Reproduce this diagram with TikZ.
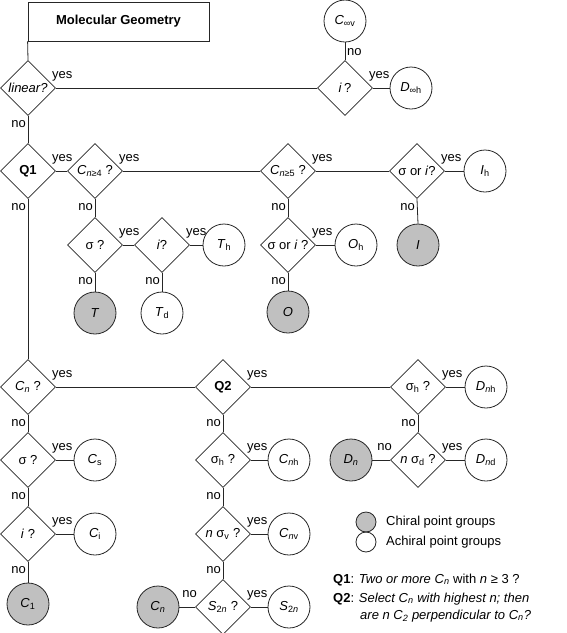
\documentclass[tikz,border=0pt]{standalone}
\usepackage{fontspec}
\setmainfont{Liberation Sans}
\usetikzlibrary{shapes.geometric,calc}
\definecolor{chgray}{HTML}{C0C0C0}
\newcommand\Sb[1]{\textsubscript{#1}}
\newcommand\It[1]{\textit{#1}}
\newcommand\fs{\fontsize{13}{15}\selectfont}
\begin{document}
\begin{tikzpicture}[x=1pt,y=-1pt,
  every node/.append style={font=\fs},
  ln/.style={draw=black!85, line width=0.8pt},
  dia/.style={draw=black!85, line width=0.8pt, shape=diamond, minimum width=55pt, minimum height=55pt, inner sep=0pt, aspect=1},
  pg/.style={draw=black!85, line width=0.8pt, circle, minimum size=42pt, inner sep=0pt},
  chi/.style={pg, fill=chgray},
  lab/.style={inner sep=0pt},
  bf/.style={font=\bfseries\fs},
]
\useasboundingbox (0,0) rectangle (566,633);
% title
\node[draw=black!85, line width=0.8pt, minimum width=181pt, minimum height=39pt, inner sep=0pt, bf] (title) at (118.5,21.5) {Molecular Geometry};
% decisions
\node[dia, label={[lab]center:\It{linear?}}] (lin) at (28,88) {};
\node[dia, label={[lab]center:{\It{i}\,?}}] (iq) at (345,88) {};
\node[dia, label={[lab,bf]center:Q1}] (q1) at (28,171) {};
\node[dia, label={[lab]center:{\It{C}\Sb{\It{n}≥4} ?}}] (c4) at (95,171) {};
\node[dia, label={[lab]center:{\It{C}\Sb{\It{n}≥5} ?}}] (c5) at (288,171) {};
\node[dia, label={[lab]center:{σ or \It{i}?}}] (soa) at (417,171) {};
\node[dia, label={[lab]center:{σ ?}}] (sga) at (95,245) {};
\node[dia, label={[lab]center:{\It{i}?}}] (iqa) at (162,245) {};
\node[dia, label={[lab]center:{σ or \It{i} ?}}] (sob) at (288,245) {};
\node[dia, label={[lab]center:{\It{C}\Sb{\It{n}} ?}}] (cnq) at (28,387) {};
\node[dia, label={[lab,bf]center:Q2}] (q2) at (223,387) {};
\node[dia, label={[lab]center:{σ\Sb{h} ?}}] (shb) at (418,387) {};
\node[dia, label={[lab]center:{σ ?}}] (sgb) at (28,460) {};
\node[dia, label={[lab]center:{\It{i} ?}}] (iqb) at (28,534) {};
\node[dia, label={[lab]center:{σ\Sb{h} ?}}] (sha) at (223,460) {};
\node[dia, label={[lab]center:{\It{n} σ\Sb{v} ?}}] (nsv) at (223,534) {};
\node[dia, label={[lab]center:{\It{S}\Sb{2\It{n}} ?}}] (s2q) at (223,607) {};
\node[dia, label={[lab]center:{\It{n} σ\Sb{d} ?}}] (nsd) at (418,460) {};
% point groups
\node[pg] (civ) at (345,21) {\It{C}\Sb{∞v}};
\node[pg] (dih) at (411,88) {\It{D}\Sb{∞h}};
\node[pg] (ih) at (485,171) {\It{I}\Sb{h}};
\node[pg] (th) at (224,245) {\It{T}\Sb{h}};
\node[chi] (t) at (95,313) {\It{T}};
\node[pg] (td) at (162,313) {\It{T}\Sb{d}};
\node[pg] (oh) at (356,245) {\It{O}\Sb{h}};
\node[chi] (o) at (288,312) {\It{O}};
\node[chi] (ico) at (418,245) {\It{I}};
\node[pg] (cs) at (95,460) {\It{C}\Sb{s}};
\node[pg] (ci) at (95,534) {\It{C}\Sb{i}};
\node[chi] (c1) at (28,604) {\It{C}\Sb{1}};
\node[pg] (cnh) at (289,460) {\It{C}\Sb{\It{n}h}};
\node[pg] (cnv) at (289,534) {\It{C}\Sb{\It{n}v}};
\node[pg] (s2n) at (289,607) {\It{S}\Sb{2\It{n}}};
\node[chi] (cnc) at (158,607) {\It{C}\Sb{\It{n}}};
\node[pg] (dnh) at (486,387) {\It{D}\Sb{\It{n}h}};
\node[chi] (dn) at (351,460) {\It{D}\Sb{\It{n}}};
\node[pg] (dnd) at (486,460) {\It{D}\Sb{\It{n}d}};
% connectors
\draw[ln] (title.south west) -- (lin.north);
\draw[ln] (lin.east) -- (iq.west);
\draw[ln] (iq.north) -- (civ.south);
\draw[ln] (iq.east) -- (dih.west);
\draw[ln] (lin.south) -- (q1.north);
\draw[ln] (q1.east) -- (c4.west);
\draw[ln] (c4.east) -- (c5.west);
\draw[ln] (c5.east) -- (soa.west);
\draw[ln] (soa.east) -- (ih.west);
\draw[ln] (soa.south) -- (ico.north);
\draw[ln] (c5.south) -- (sob.north);
\draw[ln] (sob.east) -- (oh.west);
\draw[ln] (sob.south) -- (o.north);
\draw[ln] (c4.south) -- (sga.north);
\draw[ln] (sga.east) -- (iqa.west);
\draw[ln] (iqa.east) -- (th.west);
\draw[ln] (iqa.south) -- (td.north);
\draw[ln] (sga.south) -- (t.north);
\draw[ln] (q1.south) -- (cnq.north);
\draw[ln] (cnq.east) -- (q2.west);
\draw[ln] (q2.east) -- (shb.west);
\draw[ln] (shb.east) -- (dnh.west);
\draw[ln] (shb.south) -- (nsd.north);
\draw[ln] (nsd.east) -- (dnd.west);
\draw[ln] (nsd.west) -- (dn.east);
\draw[ln] (q2.south) -- (sha.north);
\draw[ln] (sha.east) -- (cnh.west);
\draw[ln] (sha.south) -- (nsv.north);
\draw[ln] (nsv.east) -- (cnv.west);
\draw[ln] (nsv.south) -- (s2q.north);
\draw[ln] (s2q.east) -- (s2n.west);
\draw[ln] (s2q.west) -- (cnc.east);
\draw[ln] (cnq.south) -- (sgb.north);
\draw[ln] (sgb.east) -- (cs.west);
\draw[ln] (sgb.south) -- (iqb.north);
\draw[ln] (iqb.east) -- (ci.west);
\draw[ln] (iqb.south) -- (c1.north);
% yes labels
\foreach \d in {lin,iq,q1,c4,c5,soa,sob,sga,iqa,cnq,q2,shb,nsd,sha,nsv,s2q,sgb,iqb}
  \node[lab, anchor=base west] (yes-\d) at ($(\d.east)+(-4,-10)$) {yes};
% no labels below
\foreach \d in {lin,soa,c5,sob,c4,sga,iqa,q1,shb,q2,sha,nsv,cnq,sgb,iqb}
  \node[lab, anchor=north east] (no-\d) at ($(\d.south)+(-2,4)$) {no};
\node[lab, anchor=base east] (no-nsd) at ($(nsd.west)+(2,-10)$) {no};
\node[lab, anchor=base east] (no-s2q) at ($(s2q.west)+(2,-10)$) {no};
\node[lab, anchor=base west] (no-iq) at ($(iq.north)+(2,-5)$) {no};
% legend
\node[chi, minimum size=20pt] (lg1) at (366,522) {};
\node[pg, minimum size=20pt] (lg2) at (366,542) {};
\node[lab, anchor=west] (lt1) at (386,522) {Chiral point groups};
\node[lab, anchor=west] (lt2) at (386,542) {Achiral point groups};
\node[lab, anchor=base west] (qa) at (333,583) {\textbf{Q1}: \It{Two or more C}\Sb{\It{n}} with \It{n} ≥ 3 ?};
\node[lab, anchor=base west] (qb) at (333,602) {\textbf{Q2}: \It{Select C\Sb{n} with highest n; then}};
\node[lab, anchor=base west] (qc) at (360,619) {\It{are n C\Sb{2} perpendicular to C\Sb{n}?}};
\end{tikzpicture}
\end{document}
